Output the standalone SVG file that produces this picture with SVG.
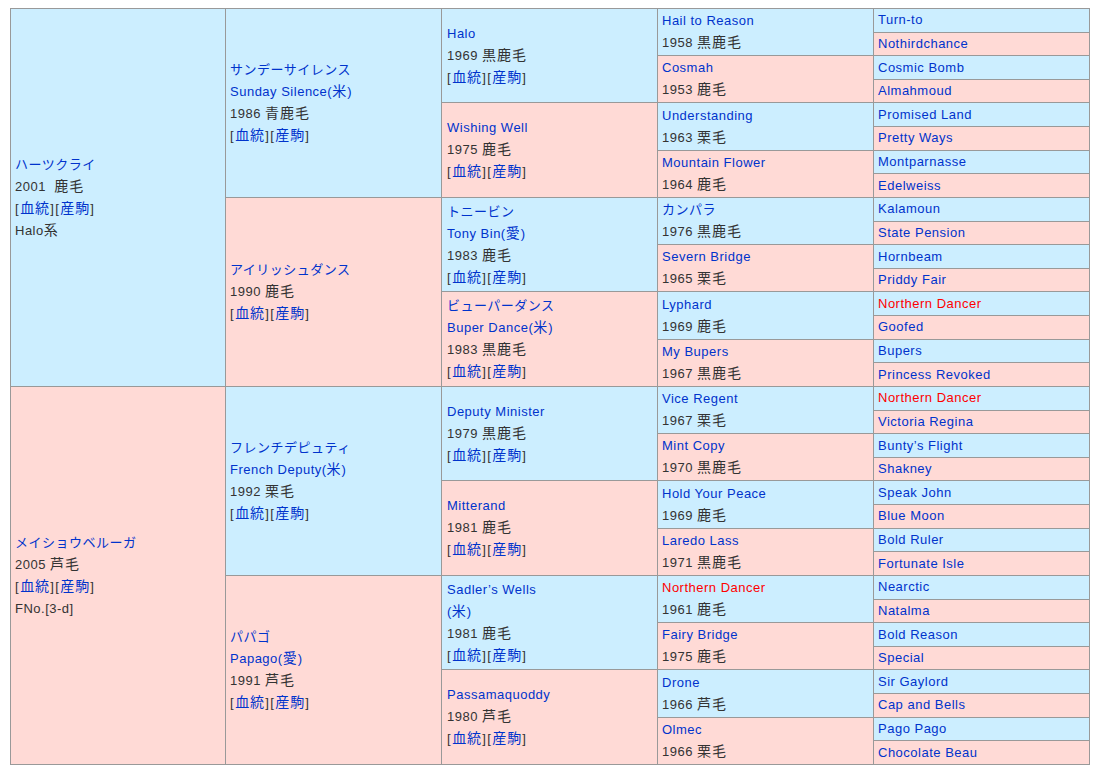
<svg xmlns="http://www.w3.org/2000/svg" width="1102" height="773" viewBox="0 0 1102 773">
<style>
text{font-family:"Liberation Sans","Noto Sans CJK JP",sans-serif;font-size:13px;letter-spacing:0.5px;fill:#333}
.b{fill:#cceeff;stroke:#999;stroke-width:1}
.p{fill:#ffdad6;stroke:#999;stroke-width:1}
.t,.t tspan,tspan.t{fill:#0033cc}
.r{fill:#ff0000}
.w{font-size:14px;letter-spacing:1px}
.bk{letter-spacing:1.5px}
.bk tspan{font-size:14px;letter-spacing:1px}
</style>
<rect x="0" y="0" width="1102" height="773" fill="#fff"/>
<g id="connectors"></g>
<!-- Column 1 -->
<g id="n-heartscry"><rect class="b" x="10.5" y="8.5" width="215" height="378"/>
<text x="15" y="168.5" class="t">ハーツクライ</text><text x="15" y="190.5">2001 &#160;<tspan class="w">鹿毛</tspan></text><text x="15" y="212.5" class="bk">[<tspan class="t">血統</tspan>][<tspan class="t">産駒</tspan>]</text><text x="15" y="234.5">Halo<tspan class="w">系</tspan></text></g>
<g id="n-meishobeluga"><rect class="p" x="10.5" y="386.5" width="215" height="378"/>
<text x="15" y="546.5" class="t">メイショウベルーガ</text><text x="15" y="568.5">2005 <tspan class="w">芦毛</tspan></text><text x="15" y="590.5" class="bk">[<tspan class="t">血統</tspan>][<tspan class="t">産駒</tspan>]</text><text x="15" y="612.5">FNo.[3-d]</text></g>
<!-- Column 2 -->
<g id="n-sundaysilence"><rect class="b" x="225.5" y="8.5" width="216" height="189"/>
<text x="230" y="74" class="t">サンデーサイレンス</text><text x="230" y="96" class="t">Sunday Silence(<tspan class="w">米</tspan>)</text><text x="230" y="118">1986 <tspan class="w">青鹿毛</tspan></text><text x="230" y="140" class="bk">[<tspan class="t">血統</tspan>][<tspan class="t">産駒</tspan>]</text></g>
<g id="n-irishdance"><rect class="p" x="225.5" y="197.5" width="216" height="189"/>
<text x="230" y="274" class="t">アイリッシュダンス</text><text x="230" y="296">1990 <tspan class="w">鹿毛</tspan></text><text x="230" y="318" class="bk">[<tspan class="t">血統</tspan>][<tspan class="t">産駒</tspan>]</text></g>
<g id="n-frenchdeputy"><rect class="b" x="225.5" y="386.5" width="216" height="189"/>
<text x="230" y="452" class="t">フレンチデピュティ</text><text x="230" y="474" class="t">French Deputy(<tspan class="w">米</tspan>)</text><text x="230" y="496">1992 <tspan class="w">栗毛</tspan></text><text x="230" y="518" class="bk">[<tspan class="t">血統</tspan>][<tspan class="t">産駒</tspan>]</text></g>
<g id="n-papago"><rect class="p" x="225.5" y="575.5" width="216" height="189"/>
<text x="230" y="641" class="t">パパゴ</text><text x="230" y="663" class="t">Papago(<tspan class="w">愛</tspan>)</text><text x="230" y="685">1991 <tspan class="w">芦毛</tspan></text><text x="230" y="707" class="bk">[<tspan class="t">血統</tspan>][<tspan class="t">産駒</tspan>]</text></g>
<!-- Column 3 -->
<g id="n-halo"><rect class="b" x="441.5" y="8.5" width="216" height="94"/>
<text x="447" y="38" class="t">Halo</text><text x="447" y="60">1969 <tspan class="w">黒鹿毛</tspan></text><text x="447" y="82" class="bk">[<tspan class="t">血統</tspan>][<tspan class="t">産駒</tspan>]</text></g>
<g id="n-wishingwell"><rect class="p" x="441.5" y="102.5" width="216" height="95"/>
<text x="447" y="132" class="t">Wishing Well</text><text x="447" y="154">1975 <tspan class="w">鹿毛</tspan></text><text x="447" y="176" class="bk">[<tspan class="t">血統</tspan>][<tspan class="t">産駒</tspan>]</text></g>
<g id="n-tonybin"><rect class="b" x="441.5" y="197.5" width="216" height="94"/>
<text x="447" y="216" class="t">トニービン</text><text x="447" y="238" class="t">Tony Bin(<tspan class="w">愛</tspan>)</text><text x="447" y="260">1983 <tspan class="w">鹿毛</tspan></text><text x="447" y="282" class="bk">[<tspan class="t">血統</tspan>][<tspan class="t">産駒</tspan>]</text></g>
<g id="n-buperdance"><rect class="p" x="441.5" y="291.5" width="216" height="95"/>
<text x="447" y="310" class="t">ビューパーダンス</text><text x="447" y="332" class="t">Buper Dance(<tspan class="w">米</tspan>)</text><text x="447" y="354">1983 <tspan class="w">黒鹿毛</tspan></text><text x="447" y="376" class="bk">[<tspan class="t">血統</tspan>][<tspan class="t">産駒</tspan>]</text></g>
<g id="n-deputyminister"><rect class="b" x="441.5" y="386.5" width="216" height="94"/>
<text x="447" y="416" class="t">Deputy Minister</text><text x="447" y="438">1979 <tspan class="w">黒鹿毛</tspan></text><text x="447" y="460" class="bk">[<tspan class="t">血統</tspan>][<tspan class="t">産駒</tspan>]</text></g>
<g id="n-mitterand"><rect class="p" x="441.5" y="480.5" width="216" height="95"/>
<text x="447" y="510" class="t">Mitterand</text><text x="447" y="532">1981 <tspan class="w">鹿毛</tspan></text><text x="447" y="554" class="bk">[<tspan class="t">血統</tspan>][<tspan class="t">産駒</tspan>]</text></g>
<g id="n-sadlerswells"><rect class="b" x="441.5" y="575.5" width="216" height="94"/>
<text x="447" y="594" class="t">Sadler’s Wells</text><text x="447" y="616" class="t">(<tspan class="w">米</tspan>)</text><text x="447" y="638">1981 <tspan class="w">鹿毛</tspan></text><text x="447" y="660" class="bk">[<tspan class="t">血統</tspan>][<tspan class="t">産駒</tspan>]</text></g>
<g id="n-passamaquoddy"><rect class="p" x="441.5" y="669.5" width="216" height="95"/>
<text x="447" y="699" class="t">Passamaquoddy</text><text x="447" y="721">1980 <tspan class="w">芦毛</tspan></text><text x="447" y="743" class="bk">[<tspan class="t">血統</tspan>][<tspan class="t">産駒</tspan>]</text></g>
<!-- Column 4 -->
<g id="n-hailtoreason"><rect class="b" x="657.5" y="8.5" width="216" height="47"/><text x="662" y="25.1" class="t">Hail to Reason</text><text x="662" y="47.1">1958 <tspan class="w">黒鹿毛</tspan></text></g>
<g id="n-cosmah"><rect class="p" x="657.5" y="55.5" width="216" height="47"/><text x="662" y="72.4" class="t">Cosmah</text><text x="662" y="94.4">1953 <tspan class="w">鹿毛</tspan></text></g>
<g id="n-understanding"><rect class="b" x="657.5" y="102.5" width="216" height="48"/><text x="662" y="119.6" class="t">Understanding</text><text x="662" y="141.6">1963 <tspan class="w">栗毛</tspan></text></g>
<g id="n-mountainflower"><rect class="p" x="657.5" y="150.5" width="216" height="47"/><text x="662" y="166.9" class="t">Mountain Flower</text><text x="662" y="188.9">1964 <tspan class="w">鹿毛</tspan></text></g>
<g id="n-kampala"><rect class="b" x="657.5" y="197.5" width="216" height="47"/><text x="662" y="214.1" class="t">カンパラ</text><text x="662" y="236.1">1976 <tspan class="w">黒鹿毛</tspan></text></g>
<g id="n-severnbridge"><rect class="p" x="657.5" y="244.5" width="216" height="47"/><text x="662" y="261.4" class="t">Severn Bridge</text><text x="662" y="283.4">1965 <tspan class="w">栗毛</tspan></text></g>
<g id="n-lyphard"><rect class="b" x="657.5" y="291.5" width="216" height="48"/><text x="662" y="308.6" class="t">Lyphard</text><text x="662" y="330.6">1969 <tspan class="w">鹿毛</tspan></text></g>
<g id="n-mybupers"><rect class="p" x="657.5" y="339.5" width="216" height="47"/><text x="662" y="355.9" class="t">My Bupers</text><text x="662" y="377.9">1967 <tspan class="w">黒鹿毛</tspan></text></g>
<g id="n-viceregent"><rect class="b" x="657.5" y="386.5" width="216" height="47"/><text x="662" y="403.1" class="t">Vice Regent</text><text x="662" y="425.1">1967 <tspan class="w">栗毛</tspan></text></g>
<g id="n-mintcopy"><rect class="p" x="657.5" y="433.5" width="216" height="47"/><text x="662" y="450.4" class="t">Mint Copy</text><text x="662" y="472.4">1970 <tspan class="w">黒鹿毛</tspan></text></g>
<g id="n-holdyourpeace"><rect class="b" x="657.5" y="480.5" width="216" height="48"/><text x="662" y="497.6" class="t">Hold Your Peace</text><text x="662" y="519.6">1969 <tspan class="w">鹿毛</tspan></text></g>
<g id="n-laredolass"><rect class="p" x="657.5" y="528.5" width="216" height="47"/><text x="662" y="544.9" class="t">Laredo Lass</text><text x="662" y="566.9">1971 <tspan class="w">黒鹿毛</tspan></text></g>
<g id="n-northerndancer4"><rect class="b" x="657.5" y="575.5" width="216" height="47"/><text x="662" y="592.1" class="r">Northern Dancer</text><text x="662" y="614.1">1961 <tspan class="w">鹿毛</tspan></text></g>
<g id="n-fairybridge"><rect class="p" x="657.5" y="622.5" width="216" height="47"/><text x="662" y="639.4" class="t">Fairy Bridge</text><text x="662" y="661.4">1975 <tspan class="w">鹿毛</tspan></text></g>
<g id="n-drone"><rect class="b" x="657.5" y="669.5" width="216" height="48"/><text x="662" y="686.6" class="t">Drone</text><text x="662" y="708.6">1966 <tspan class="w">芦毛</tspan></text></g>
<g id="n-olmec"><rect class="p" x="657.5" y="717.5" width="216" height="47"/><text x="662" y="733.9" class="t">Olmec</text><text x="662" y="755.9">1966 <tspan class="w">栗毛</tspan></text></g>
<!-- Column 5 -->
<g id="n-turnto"><rect class="b" x="873.5" y="8.5" width="216" height="24"/><text x="878" y="24.3" class="t">Turn-to</text></g>
<g id="n-nothirdchance"><rect class="p" x="873.5" y="32.5" width="216" height="23"/><text x="878" y="47.9" class="t">Nothirdchance</text></g>
<g id="n-cosmicbomb"><rect class="b" x="873.5" y="55.5" width="216" height="24"/><text x="878" y="71.6" class="t">Cosmic Bomb</text></g>
<g id="n-almahmoud"><rect class="p" x="873.5" y="79.5" width="216" height="23"/><text x="878" y="95.2" class="t">Almahmoud</text></g>
<g id="n-promisedland"><rect class="b" x="873.5" y="102.5" width="216" height="24"/><text x="878" y="118.8" class="t">Promised Land</text></g>
<g id="n-prettyways"><rect class="p" x="873.5" y="126.5" width="216" height="24"/><text x="878" y="142.4" class="t">Pretty Ways</text></g>
<g id="n-montparnasse"><rect class="b" x="873.5" y="150.5" width="216" height="23"/><text x="878" y="166.1" class="t">Montparnasse</text></g>
<g id="n-edelweiss"><rect class="p" x="873.5" y="173.5" width="216" height="24"/><text x="878" y="189.7" class="t">Edelweiss</text></g>
<g id="n-kalamoun"><rect class="b" x="873.5" y="197.5" width="216" height="24"/><text x="878" y="213.3" class="t">Kalamoun</text></g>
<g id="n-statepension"><rect class="p" x="873.5" y="221.5" width="216" height="23"/><text x="878" y="236.9" class="t">State Pension</text></g>
<g id="n-hornbeam"><rect class="b" x="873.5" y="244.5" width="216" height="24"/><text x="878" y="260.6" class="t">Hornbeam</text></g>
<g id="n-priddyfair"><rect class="p" x="873.5" y="268.5" width="216" height="23"/><text x="878" y="284.2" class="t">Priddy Fair</text></g>
<g id="n-northerndancer5a"><rect class="b" x="873.5" y="291.5" width="216" height="24"/><text x="878" y="307.8" class="r">Northern Dancer</text></g>
<g id="n-goofed"><rect class="p" x="873.5" y="315.5" width="216" height="24"/><text x="878" y="331.4" class="t">Goofed</text></g>
<g id="n-bupers"><rect class="b" x="873.5" y="339.5" width="216" height="23"/><text x="878" y="355.1" class="t">Bupers</text></g>
<g id="n-princessrevoked"><rect class="p" x="873.5" y="362.5" width="216" height="24"/><text x="878" y="378.7" class="t">Princess Revoked</text></g>
<g id="n-northerndancer5b"><rect class="b" x="873.5" y="386.5" width="216" height="24"/><text x="878" y="402.3" class="r">Northern Dancer</text></g>
<g id="n-victoriaregina"><rect class="p" x="873.5" y="410.5" width="216" height="23"/><text x="878" y="425.9" class="t">Victoria Regina</text></g>
<g id="n-buntysflight"><rect class="b" x="873.5" y="433.5" width="216" height="24"/><text x="878" y="449.6" class="t">Bunty’s Flight</text></g>
<g id="n-shakney"><rect class="p" x="873.5" y="457.5" width="216" height="23"/><text x="878" y="473.2" class="t">Shakney</text></g>
<g id="n-speakjohn"><rect class="b" x="873.5" y="480.5" width="216" height="24"/><text x="878" y="496.8" class="t">Speak John</text></g>
<g id="n-bluemoon"><rect class="p" x="873.5" y="504.5" width="216" height="24"/><text x="878" y="520.4" class="t">Blue Moon</text></g>
<g id="n-boldruler"><rect class="b" x="873.5" y="528.5" width="216" height="23"/><text x="878" y="544.1" class="t">Bold Ruler</text></g>
<g id="n-fortunateisle"><rect class="p" x="873.5" y="551.5" width="216" height="24"/><text x="878" y="567.7" class="t">Fortunate Isle</text></g>
<g id="n-nearctic"><rect class="b" x="873.5" y="575.5" width="216" height="24"/><text x="878" y="591.3" class="t">Nearctic</text></g>
<g id="n-natalma"><rect class="p" x="873.5" y="599.5" width="216" height="23"/><text x="878" y="614.9" class="t">Natalma</text></g>
<g id="n-boldreason"><rect class="b" x="873.5" y="622.5" width="216" height="24"/><text x="878" y="638.6" class="t">Bold Reason</text></g>
<g id="n-special"><rect class="p" x="873.5" y="646.5" width="216" height="23"/><text x="878" y="662.2" class="t">Special</text></g>
<g id="n-sirgaylord"><rect class="b" x="873.5" y="669.5" width="216" height="24"/><text x="878" y="685.8" class="t">Sir Gaylord</text></g>
<g id="n-capandbells"><rect class="p" x="873.5" y="693.5" width="216" height="24"/><text x="878" y="709.4" class="t">Cap and Bells</text></g>
<g id="n-pagopago"><rect class="b" x="873.5" y="717.5" width="216" height="23"/><text x="878" y="733.1" class="t">Pago Pago</text></g>
<g id="n-chocolatebeau"><rect class="p" x="873.5" y="740.5" width="216" height="24"/><text x="878" y="756.7" class="t">Chocolate Beau</text></g>
</svg>
